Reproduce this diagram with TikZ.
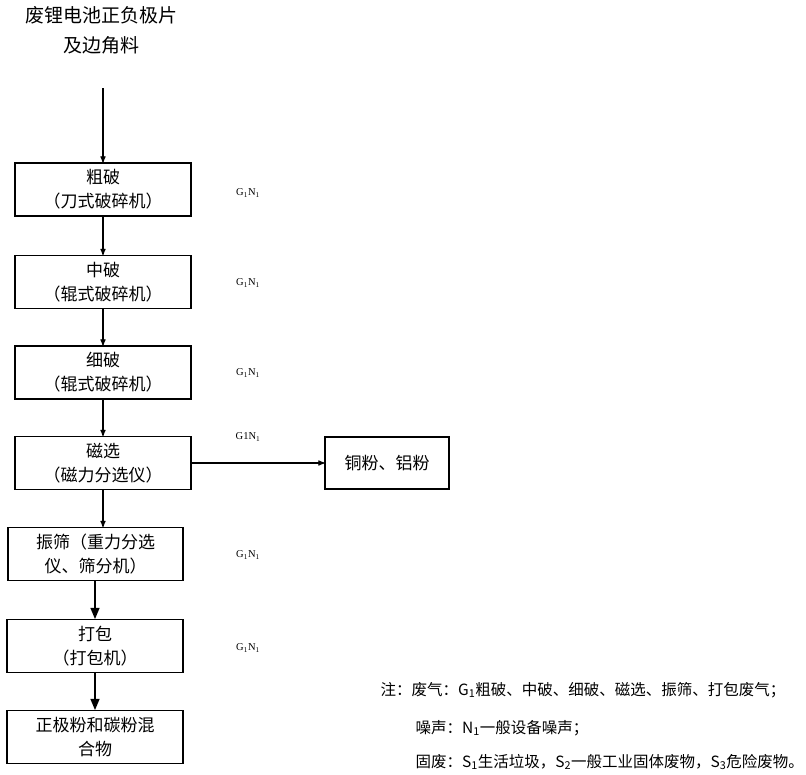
\documentclass[tikz,border=0pt]{standalone}
\usepackage{fontspec}
\setmainfont{Liberation Serif}
\newfontfamily\cjk{Noto Sans CJK SC}
\usepackage{tikz}
\usetikzlibrary{arrows}
\newcommand{\gn}{G\textsubscript{1}N\textsubscript{1}}
\tikzset{
	procbox/.style = {draw=black, line width=1.1pt, rectangle, align=center,
		inner sep=0pt, minimum width=176pt, minimum height=53pt,
		font=\cjk\fontsize{17}{24}\selectfont},
	outbox/.style = {procbox, minimum width=124pt, minimum height=52pt},
	toptext/.style = {align=center, inner sep=0pt,
		font=\cjk\fontsize{19}{30}\selectfont},
	emis/.style = {inner sep=0pt, font=\fontsize{10.5}{12}\selectfont},
	note/.style = {anchor=west, inner sep=0pt,
		font=\cjk\fontsize{15.5}{18}\selectfont},
	thick_arr/.style = {line width=1.6pt, -triangle 45}
}

\begin{document}
\begin{tikzpicture}[x=1pt,y=-1pt,->,>=stealth',line width=1.2pt]
\useasboundingbox (0,0) rectangle (806,774);
\node [toptext] (src) at (101,30) {废锂电池正负极片\\及边角料};
\coordinate (srcend) at (103,88);
\node [procbox] (cu) at (103,189.5) {粗破\\（刀式破碎机）};
\node [procbox] (zh) at (103,282) {中破\\（辊式破碎机）};
\node [procbox] (xi) at (103,372.5) {细破\\（辊式破碎机）};
\node [procbox] (ci) at (103,463) {磁选\\（磁力分选仪）};
\node [outbox] (cual) at (387,463) {铜粉、铝粉};
\node [procbox, minimum width=175pt] (zs) at (95.5,554) {振筛（重力分选\\仪、筛分机）};
\node [procbox] (db) at (95,646) {打包\\（打包机）};
\node [procbox] (zj) at (95,737) {正极粉和碳粉混\\合物};
% emissions
\node [emis] (e1) at (248,193) {\gn};
\node [emis] (e2) at (248,283) {\gn};
\node [emis] (e3) at (248,373) {\gn};
\node [emis] (e4) at (248,437) {G1N\textsubscript{1}};
\node [emis] (e5) at (248,555) {\gn};
\node [emis] (e6) at (248,648) {\gn};
% arrows
\draw (srcend) -- (cu.north);
\draw (cu) -- (zh);
\draw (zh) -- (xi);
\draw (xi) -- (ci);
\draw (ci) -- (cual);
\draw (ci.south) -- (ci.south |- zs.north);
\draw [thick_arr] (zs.south -| db.north) -- (db.north);
\draw [thick_arr] (db) -- (zj);
% notes
\node [note] (n1) at (380,690) {注：废气：G\textsubscript{1}粗破、中破、细破、磁选、振筛、打包废气；};
\node [note] (n2) at (415,728) {噪声：N\textsubscript{1}一般设备噪声；};
\node [note] (n3) at (415,762) {固废：S\textsubscript{1}生活垃圾，S\textsubscript{2}一般工业固体废物，S\textsubscript{3}危险废物。};
\end{tikzpicture}
\end{document}
